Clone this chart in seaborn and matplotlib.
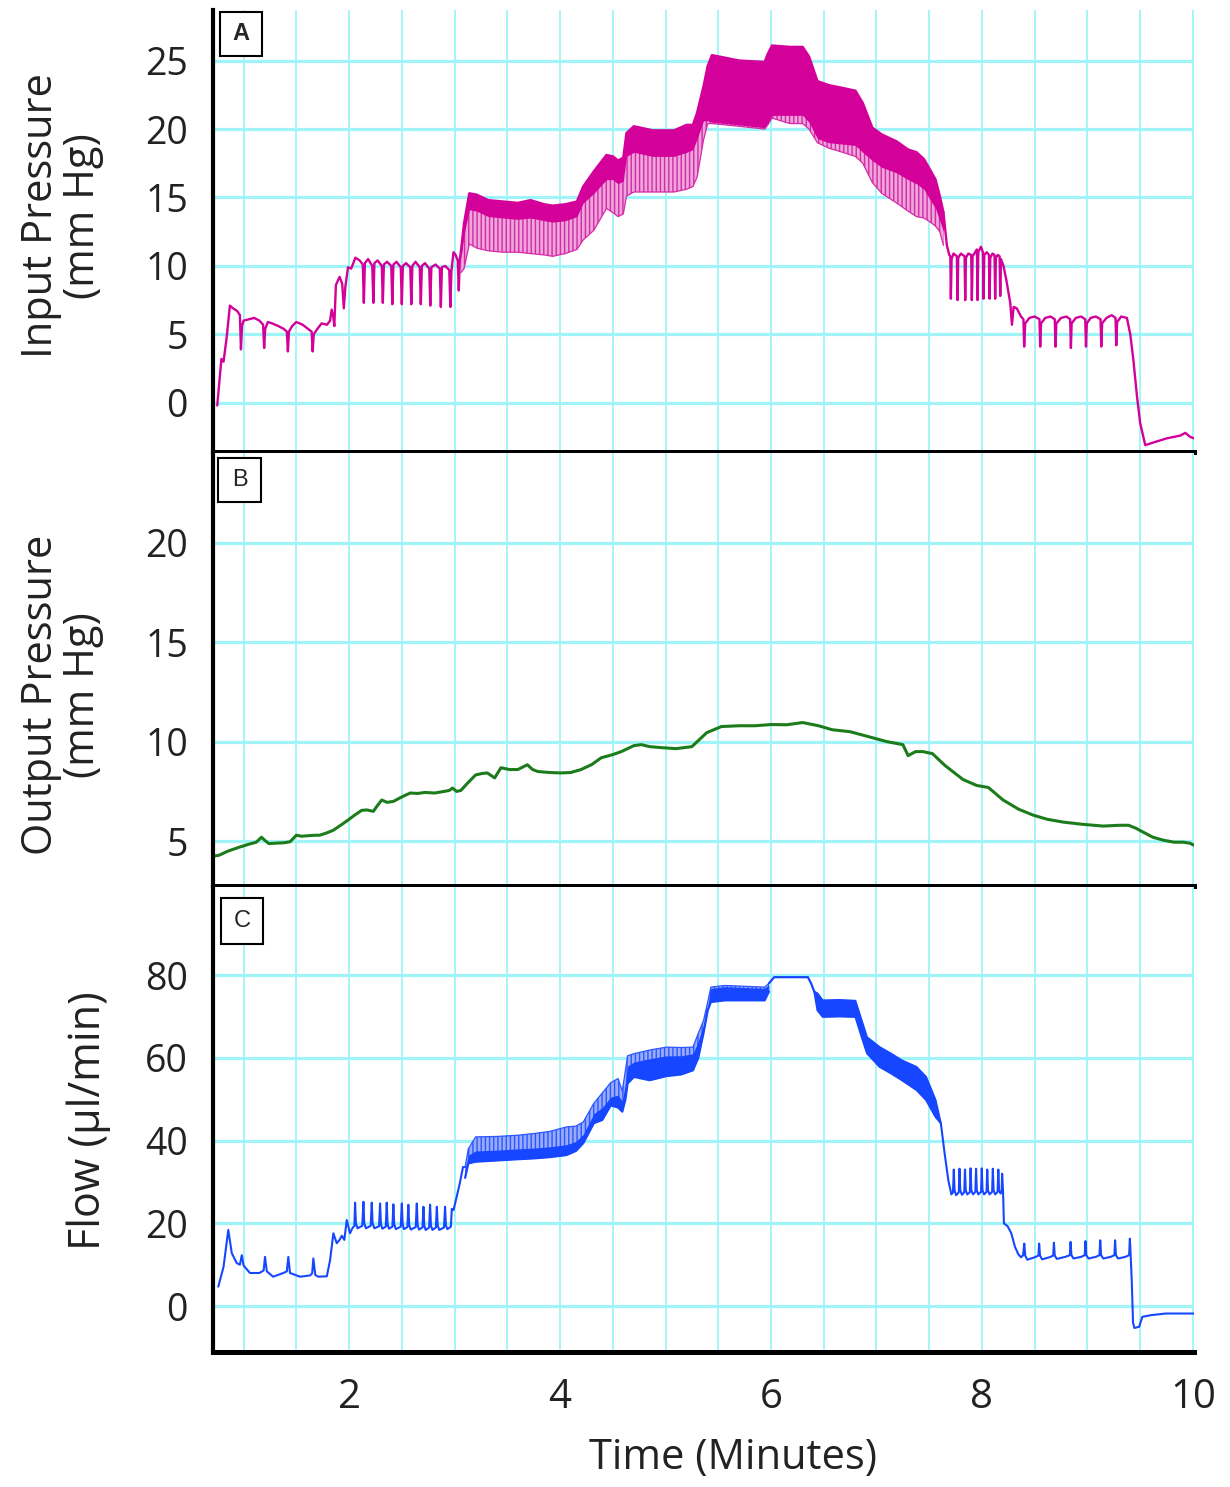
import matplotlib
matplotlib.use("Agg")
import matplotlib.pyplot as plt
import seaborn as sns
from matplotlib.ticker import FixedLocator, MultipleLocator
from matplotlib.patches import Rectangle

# ---------------------------------------------------------------- data
# Panel A - input pressure (mm Hg); sparse trace before the dense pulsing
input_head = [
    (0.75, -0.2), (0.77, 1.5), (0.79, 3.2), (0.81, 3.0), (0.84, 4.8), (0.87, 7.1),
    (0.90, 6.9), (0.94, 6.7), (0.965, 6.4), (0.975, 3.9), (0.985, 5.6), (1.00, 6.0),
    (1.05, 6.1), (1.10, 6.2), (1.15, 6.0), (1.185, 5.7), (1.195, 4.0), (1.205, 5.4),
    (1.23, 5.9), (1.27, 5.8), (1.33, 5.6), (1.38, 5.4), (1.41, 5.2), (1.42, 3.75),
    (1.43, 5.2), (1.46, 5.6), (1.50, 5.9), (1.56, 5.7), (1.61, 5.4), (1.645, 5.2),
    (1.655, 3.75), (1.665, 5.0), (1.70, 5.4), (1.74, 5.8), (1.79, 5.7), (1.82, 6.0),
    (1.835, 6.8), (1.85, 6.3), (1.86, 5.6), (1.875, 8.6), (1.91, 9.2), (1.935, 8.7),
    (1.95, 6.9), (1.965, 8.5), (1.99, 9.9), (2.02, 9.8), (2.06, 10.6), (2.10, 10.4),
    (2.13, 10.1), (2.14, 7.3), (2.15, 10.2), (2.18, 10.5), (2.22, 10.0), (2.23, 7.3),
    (2.24, 10.2), (2.27, 10.4), (2.31, 10.0), (2.32, 7.3), (2.33, 10.1), (2.36, 10.3),
    (2.40, 10.0), (2.41, 7.2), (2.42, 10.1), (2.45, 10.3), (2.49, 9.9), (2.50, 7.2),
    (2.51, 10.0), (2.54, 10.2), (2.58, 9.9), (2.59, 7.2), (2.60, 10.0), (2.63, 10.3),
    (2.67, 9.9), (2.68, 7.2), (2.69, 10.0), (2.72, 10.2), (2.76, 9.8), (2.77, 7.1),
    (2.78, 9.9), (2.82, 10.1), (2.86, 9.8), (2.87, 7.0), (2.88, 9.9), (2.91, 10.0),
    (2.95, 9.7), (2.96, 7.0), (2.97, 9.6), (2.99, 11.0), (3.01, 10.8), (3.03, 10.4),
    (3.04, 8.2), (3.05, 10.5), (3.06, 11.0),
]
# dense pulsing section: time, top of trace, bottom of the solid part, lowest dips
input_band_t = [3.06, 3.09, 3.14, 3.21, 3.32, 3.46, 3.60, 3.72, 3.85, 3.93, 4.05, 4.16,
                4.22, 4.32, 4.44, 4.50, 4.55, 4.60, 4.63, 4.70, 4.88, 5.08, 5.20, 5.26,
                5.30, 5.36, 5.40, 5.44, 5.70, 5.94, 5.97, 6.01, 6.18, 6.30, 6.36, 6.44,
                6.55, 6.68, 6.80, 6.87, 6.96, 7.05, 7.19, 7.30, 7.38, 7.45, 7.51, 7.56,
                7.60, 7.635]
input_band_hi = [11.0, 13.1, 15.3, 15.2, 14.8, 14.7, 14.6, 14.8, 14.5, 14.4, 14.5, 14.7,
                 15.8, 16.9, 18.1, 18.0, 17.7, 17.9, 19.7, 20.2, 19.9, 19.9, 20.3, 20.3,
                 21.2, 23.1, 24.6, 25.4, 25.0, 24.9, 25.5, 26.1, 26.0, 26.0, 25.3, 23.5,
                 23.2, 23.0, 22.8, 21.9, 20.1, 19.6, 19.1, 18.5, 18.3, 17.8, 17.0, 16.3,
                 15.1, 13.9]
input_band_mid = [10.5, 12.3, 14.1, 14.0, 13.6, 13.5, 13.4, 13.5, 13.3, 13.2, 13.3, 13.6,
                  14.6, 15.3, 16.3, 16.3, 16.0, 16.2, 18.0, 18.3, 18.0, 18.0, 18.3, 18.5,
                  19.3, 20.6, 20.6, 20.5, 20.3, 20.1, 20.4, 21.0, 21.0, 21.0, 20.5, 19.3,
                  19.0, 18.9, 18.8, 18.3, 17.7, 17.2, 16.8, 16.3, 16.0, 15.6, 14.8, 14.2,
                  13.3, 12.5]
input_band_lo = [9.5, 9.8, 11.6, 11.3, 11.1, 11.0, 11.0, 10.9, 10.8, 10.7, 10.9, 11.2,
                 11.9, 12.6, 14.2, 13.9, 13.6, 13.8, 15.1, 15.4, 15.4, 15.4, 15.6, 15.8,
                 16.5, 19.2, 20.4, 20.4, 20.2, 20.0, 20.3, 20.8, 20.4, 20.4, 20.0, 19.0,
                 18.6, 18.3, 18.0, 17.5, 16.1, 15.3, 14.6, 14.0, 13.6, 13.5, 13.2, 12.9,
                 12.5, 11.5]
input_tail = [
    (7.635, 13.9), (7.667, 11.5), (7.69, 10.8), (7.700, 10.7), (7.705, 7.6), (7.712, 10.5),
    (7.73, 10.9), (7.762, 10.7), (7.768, 7.5), (7.775, 10.6), (7.80, 10.9), (7.835, 10.7),
    (7.841, 7.5), (7.848, 10.6), (7.87, 10.9), (7.898, 10.8), (7.904, 7.5), (7.911, 10.7),
    (7.935, 11.0), (7.952, 11.2), (7.958, 7.5), (7.965, 11.0), (7.99, 11.4), (8.009, 11.0),
    (8.015, 7.6), (8.022, 10.8), (8.045, 11.0), (8.066, 10.8), (8.072, 7.6), (8.079, 10.6),
    (8.10, 10.9), (8.119, 10.8), (8.125, 7.6), (8.132, 10.6), (8.15, 10.8), (8.167, 10.7),
    (8.173, 7.8), (8.18, 10.5), (8.204, 10.0), (8.23, 9.0), (8.268, 7.3), (8.284, 5.7),
    (8.30, 7.0), (8.33, 6.9), (8.37, 6.3), (8.393, 6.1), (8.40, 4.1), (8.41, 5.8),
    (8.45, 6.2), (8.50, 6.3), (8.545, 6.1), (8.552, 4.1), (8.56, 5.8), (8.60, 6.2),
    (8.65, 6.3), (8.69, 6.1), (8.697, 4.1), (8.705, 5.8), (8.75, 6.2), (8.80, 6.3),
    (8.836, 6.1), (8.843, 4.0), (8.85, 5.8), (8.89, 6.2), (8.94, 6.3), (8.979, 6.1),
    (8.986, 4.1), (8.994, 5.8), (9.03, 6.2), (9.08, 6.3), (9.124, 6.1), (9.131, 4.1),
    (9.139, 5.8), (9.18, 6.2), (9.23, 6.4), (9.266, 6.2), (9.273, 4.2), (9.281, 5.9),
    (9.32, 6.3), (9.374, 6.2), (9.406, 5.0), (9.437, 3.0), (9.469, 0.5), (9.50, -1.5),
    (9.548, -3.1), (9.627, -2.9), (9.753, -2.6), (9.88, -2.4), (9.927, -2.2),
    (9.975, -2.5), (10.01, -2.6),
]

# Panel B - output pressure (mm Hg)
output_trace = [
    (0.72, 4.25), (0.77, 4.3), (0.85, 4.5), (0.96, 4.7), (1.05, 4.85), (1.12, 4.95),
    (1.17, 5.2), (1.20, 5.05), (1.24, 4.88), (1.30, 4.9), (1.38, 4.92), (1.44, 4.97),
    (1.50, 5.3), (1.55, 5.25), (1.62, 5.28), (1.68, 5.3), (1.72, 5.3), (1.78, 5.4),
    (1.85, 5.55), (1.92, 5.8), (1.99, 6.06), (2.05, 6.3), (2.12, 6.55), (2.17, 6.57),
    (2.23, 6.5), (2.27, 6.8), (2.31, 7.07), (2.36, 6.95), (2.42, 7.0), (2.48, 7.17),
    (2.53, 7.3), (2.58, 7.42), (2.65, 7.4), (2.72, 7.45), (2.81, 7.42), (2.90, 7.5),
    (2.95, 7.55), (2.98, 7.67), (3.02, 7.5), (3.06, 7.55), (3.12, 7.9), (3.20, 8.33),
    (3.26, 8.4), (3.31, 8.43), (3.38, 8.18), (3.44, 8.69), (3.52, 8.6), (3.60, 8.6),
    (3.69, 8.84), (3.74, 8.6), (3.79, 8.5), (3.90, 8.45), (4.01, 8.43), (4.10, 8.45),
    (4.20, 8.6), (4.30, 8.85), (4.39, 9.19), (4.50, 9.35), (4.58, 9.5), (4.70, 9.8),
    (4.77, 9.85), (4.85, 9.75), (4.96, 9.7), (5.10, 9.65), (5.25, 9.75), (5.32, 10.1),
    (5.39, 10.45), (5.53, 10.76), (5.70, 10.8), (5.85, 10.8), (6.00, 10.86),
    (6.15, 10.85), (6.30, 10.96), (6.45, 10.8), (6.58, 10.6), (6.75, 10.5), (6.96, 10.2),
    (7.10, 10.0), (7.25, 9.85), (7.30, 9.3), (7.37, 9.5), (7.44, 9.5), (7.53, 9.4),
    (7.65, 8.8), (7.82, 8.1), (7.95, 7.8), (8.06, 7.7), (8.20, 7.07), (8.35, 6.6),
    (8.49, 6.3), (8.62, 6.1), (8.77, 5.96), (8.95, 5.85), (9.15, 5.76), (9.30, 5.8),
    (9.39, 5.8), (9.46, 5.65), (9.53, 5.45), (9.62, 5.2), (9.72, 5.05), (9.82, 4.95),
    (9.91, 4.95), (9.97, 4.9), (10.01, 4.8),
]

# Panel C - flow (ul/min)
flow_head = [
    (0.76, 4.7), (0.81, 9.5), (0.855, 18.4), (0.888, 12.8), (0.935, 10.4), (0.965, 10.0),
    (0.983, 12.3), (1.00, 9.8), (1.06, 8.0), (1.15, 8.0), (1.19, 8.6), (1.203, 11.9),
    (1.22, 8.4), (1.28, 7.1), (1.377, 8.0), (1.41, 8.4), (1.424, 11.9), (1.44, 8.0),
    (1.535, 7.1), (1.63, 7.4), (1.65, 7.9), (1.661, 11.5), (1.68, 7.5), (1.709, 7.1),
    (1.789, 7.2), (1.820, 11.1), (1.851, 17.6), (1.883, 15.2), (1.91, 16.0),
    (1.931, 17.0), (1.955, 16.0), (1.978, 20.8), (2.009, 17.6), (2.035, 19.0),
    (2.05, 19.3),
    (2.057, 25.0), (2.065, 20.0), (2.08, 18.8), (2.125, 19.4),
    (2.136, 25.2), (2.144, 20.0), (2.16, 18.8), (2.205, 19.4),
    (2.215, 25.0), (2.223, 20.0), (2.24, 18.8), (2.284, 19.3),
    (2.294, 24.8), (2.302, 19.8), (2.315, 18.7), (2.348, 19.2),
    (2.357, 25.0), (2.365, 19.8), (2.378, 18.7), (2.411, 19.2),
    (2.42, 24.6), (2.428, 19.8), (2.443, 18.6), (2.49, 19.2),
    (2.50, 24.8), (2.508, 19.8), (2.52, 18.6), (2.553, 19.1),
    (2.562, 24.5), (2.57, 19.6), (2.585, 18.5), (2.632, 19.1),
    (2.642, 24.8), (2.65, 19.6), (2.663, 18.5), (2.696, 19.0),
    (2.705, 24.0), (2.713, 19.5), (2.726, 18.4), (2.759, 19.0),
    (2.768, 24.5), (2.776, 19.5), (2.79, 18.4), (2.823, 19.0),
    (2.832, 24.0), (2.84, 19.5), (2.855, 18.4), (2.90, 19.0),
    (2.91, 24.0), (2.918, 19.5), (2.932, 18.6), (2.965, 19.2),
    (2.974, 23.5), (2.99, 23.2), (3.02, 26.4), (3.05, 29.7), (3.08, 33.6), (3.10, 33.6),
]
# dense pulsing: time, top of the pulses, top of the solid base, bottom
flow_band_t = [3.10, 3.13, 3.20, 3.40, 3.60, 3.75, 3.90, 4.06, 4.15, 4.22, 4.32, 4.40,
               4.48, 4.55, 4.59, 4.62, 4.64, 4.70, 4.85, 5.01, 5.15, 5.26, 5.31, 5.36,
               5.40, 5.43, 5.56, 5.75, 5.94, 5.98]
flow_band_hi = [33.6, 38.0, 40.9, 41.0, 41.3, 41.7, 42.2, 43.3, 43.5, 44.5, 49.0, 51.5,
                54.0, 55.0, 52.0, 57.0, 60.5, 61.0, 61.9, 62.6, 62.5, 62.6, 65.9, 69.0,
                73.5, 77.1, 77.5, 77.3, 77.1, 78.0]
flow_band_mid = [33.0, 36.5, 37.5, 37.7, 38.0, 38.2, 38.5, 39.0, 39.8, 41.5, 46.5, 48.0,
                 50.5, 51.0, 49.5, 54.0, 58.0, 59.0, 59.8, 60.5, 60.5, 61.0, 64.0, 68.0,
                 72.5, 76.8, 77.2, 77.0, 76.8, 77.7]
flow_band_lo = [31.0, 34.5, 34.9, 35.2, 35.5, 35.7, 36.0, 36.5, 37.5, 39.4, 44.2, 45.0,
                48.5, 48.0, 47.0, 50.0, 53.8, 55.4, 54.6, 55.6, 56.0, 57.0, 60.0, 66.0,
                71.5, 73.5, 73.9, 73.9, 73.9, 76.0]
flow_plateau = [(5.98, 78.0), (6.03, 79.5), (6.35, 79.5), (6.38, 78.0), (6.41, 76.0)]
flow_band2_t = [6.41, 6.44, 6.49, 6.65, 6.80, 6.86, 6.91, 7.03, 7.14, 7.24, 7.38, 7.47,
                7.56, 7.61]
flow_band2_hi = [76.0, 75.6, 73.9, 74.0, 73.8, 69.0, 65.0, 62.6, 61.0, 59.4, 57.8, 55.4,
                 49.8, 44.2]
flow_band2_lo = [76.0, 71.5, 69.9, 70.0, 69.9, 65.0, 61.1, 57.8, 56.2, 54.6, 52.2, 49.8,
                 45.7, 44.2]
flow_tail = [
    (7.61, 44.2), (7.646, 36.9), (7.681, 30.4), (7.71, 27.0), (7.725, 27.5),
    (7.733, 33.0), (7.74, 28.0), (7.755, 26.8), (7.78, 27.5),
    (7.787, 33.2), (7.794, 28.0), (7.81, 26.9), (7.832, 27.5),
    (7.839, 33.0), (7.846, 28.0), (7.86, 27.0), (7.885, 27.5),
    (7.892, 33.3), (7.899, 28.0), (7.915, 27.0), (7.937, 27.6),
    (7.944, 33.2), (7.951, 28.0), (7.965, 27.0), (7.991, 27.6),
    (7.998, 33.3), (8.005, 28.0), (8.02, 27.0), (8.043, 27.6),
    (8.05, 33.0), (8.057, 28.0), (8.072, 27.0), (8.096, 27.6),
    (8.103, 33.2), (8.11, 28.0), (8.125, 27.0), (8.148, 27.6),
    (8.155, 33.0), (8.162, 28.0), (8.175, 27.2), (8.186, 27.6),
    (8.191, 32.0), (8.20, 27.5), (8.208, 20.0), (8.243, 19.3), (8.278, 17.6),
    (8.313, 14.3), (8.345, 12.5), (8.37, 11.8), (8.39, 12.3),
    (8.401, 15.1), (8.41, 12.2), (8.43, 11.2), (8.50, 11.8), (8.535, 12.2),
    (8.542, 15.1), (8.55, 12.2), (8.57, 11.3), (8.64, 11.8), (8.675, 12.2),
    (8.682, 15.3), (8.69, 12.2), (8.71, 11.4), (8.79, 11.9), (8.833, 12.3),
    (8.84, 15.5), (8.848, 12.3), (8.868, 11.5), (8.94, 11.9), (8.974, 12.3),
    (8.981, 15.7), (8.989, 12.3), (9.01, 11.5), (9.08, 11.9), (9.114, 12.3),
    (9.121, 15.9), (9.129, 12.3), (9.15, 11.5), (9.22, 11.9), (9.255, 12.3),
    (9.262, 15.9), (9.27, 12.3), (9.29, 11.5), (9.36, 11.9), (9.395, 12.3),
    (9.402, 16.3), (9.41, 12.0), (9.42, 6.0), (9.432, -4.0), (9.445, -5.3),
    (9.49, -5.0), (9.52, -2.6), (9.60, -2.2), (9.74, -1.8), (10.01, -1.8),
]

# axis ticks
time_ticks = [2, 4, 6, 8, 10]
input_ticks = [0, 5, 10, 15, 20, 25]
output_ticks = [5, 10, 15, 20]
flow_ticks = [0, 20, 40, 60, 80]

# ---------------------------------------------------------------- style
sns.set_style("white")
plt.rcParams["font.family"] = ["Open Sans", "DejaVu Sans"]
plt.rcParams["hatch.linewidth"] = 1.0

MAGENTA = "#d3009a"
PINK = "#eda6db"
PINK_STROKE = "#d62aa6"
GREEN = "#1c7c1c"
BLUE = "#1646ff"
BLUE_LIGHT = "#98abff"
BLUE_STROKE = "#2b57ff"
GRID = "#9ff4f8"

W, H = 1230, 1487
fig = plt.figure(figsize=(W / 100, H / 100), dpi=100)
fig.patch.set_facecolor("white")

left, width = 213 / W, (1194 - 213) / W
axA = fig.add_axes([left, 1 - 452 / H, width, (452 - 10) / H])
axB = fig.add_axes([left, 1 - 886 / H, width, (886 - 453) / H])
axC = fig.add_axes([left, 1 - 1352 / H, width, (1352 - 887) / H])


def style_axes(ax, ylim, yticks, show_time):
    ax.set_xlim(0.71, 10.01)
    ax.set_ylim(*ylim)
    ax.set_facecolor("white")
    ax.yaxis.set_major_locator(FixedLocator(yticks))
    ax.xaxis.set_major_locator(FixedLocator(time_ticks))
    ax.xaxis.set_minor_locator(MultipleLocator(0.5))
    ax.grid(which="both", axis="x", color=GRID, lw=1.3)
    ax.grid(which="major", axis="y", color=GRID, lw=2.3)
    ax.set_axisbelow(True)
    for side in ("top", "right"):
        ax.spines[side].set_visible(False)
    ax.spines["left"].set_linewidth(3.0)
    ax.spines["bottom"].set_linewidth(3.6)
    ax.spines["left"].set_color("black")
    ax.spines["bottom"].set_color("black")
    ax.tick_params(axis="y", direction="out", length=6, width=2.6, labelsize=27,
                   pad=12, colors="black", labelcolor="#222222")
    ax.tick_params(axis="x", which="minor", length=0)
    if show_time:
        ax.tick_params(axis="x", which="major", direction="out", length=7, width=3,
                       labelsize=29, pad=11, labelcolor="#222222")
    else:
        ax.tick_params(axis="x", which="major", length=0, labelbottom=False)
    ax.set_xlabel("")
    ax.set_ylabel("")


def trace(ax, pairs, color, lw):
    t, v = zip(*pairs)
    sns.lineplot(x=list(t), y=list(v), ax=ax, color=color, lw=lw,
                 estimator=None, sort=False, legend=False)


def edge(ax, t, v, color, lw):
    sns.lineplot(x=t, y=v, ax=ax, color=color, lw=lw,
                 estimator=None, sort=False, legend=False)


# ---- Panel A
style_axes(axA, (-3.6, 28.7), input_ticks, False)
trace(axA, input_head, MAGENTA, 1.7)
axA.fill_between(input_band_t, input_band_lo, input_band_hi, facecolor=PINK,
                 edgecolor=PINK_STROKE, hatch="||||", lw=0)
axA.fill_between(input_band_t, input_band_mid, input_band_hi, color=MAGENTA, lw=0)
edge(axA, input_band_t, input_band_hi, MAGENTA, 1.8)
edge(axA, input_band_t, input_band_lo, PINK_STROKE, 0.9)
trace(axA, input_tail, MAGENTA, 1.7)

# ---- Panel B
style_axes(axB, (2.75, 24.5), output_ticks, False)
trace(axB, output_trace, GREEN, 2.2)

# ---- Panel C
style_axes(axC, (-11.1, 101.3), flow_ticks, True)
trace(axC, flow_head, BLUE, 1.5)
axC.fill_between(flow_band_t, flow_band_lo, flow_band_hi, facecolor=BLUE_LIGHT,
                 edgecolor=BLUE_STROKE, hatch="||||", lw=0)
axC.fill_between(flow_band_t, flow_band_lo, flow_band_mid, color=BLUE, lw=0)
edge(axC, flow_band_t, flow_band_lo, BLUE, 1.6)
edge(axC, flow_band_t, flow_band_hi, BLUE_STROKE, 0.9)
trace(axC, flow_plateau, BLUE, 1.6)
axC.fill_between(flow_band2_t, flow_band2_lo, flow_band2_hi, color=BLUE, lw=0)
edge(axC, flow_band2_t, flow_band2_hi, BLUE, 1.4)
edge(axC, flow_band2_t, flow_band2_lo, BLUE, 1.4)
trace(axC, flow_tail, BLUE, 1.5)

# ---------------------------------------------------------------- labels
label_kw = dict(rotation=90, ha="center", va="center", multialignment="center",
                color="#222222", linespacing=1.0)
fig.text(62 / W, 1 - 216 / H, "Input Pressure\n(mm Hg)", fontsize=30, **label_kw)
fig.text(62 / W, 1 - 695 / H, "Output Pressure\n(mm Hg)", fontsize=30, **label_kw)
fig.text(89 / W, 1 - 1121 / H, "Flow (µl/min)", fontsize=31, **label_kw)
fig.text(733 / W, 1 - 1458 / H, "Time (Minutes)", ha="center", va="center",
         fontsize=30, color="#222222")


def panel_tag(letter, x0, y0, x1, y1, weight):
    fig.add_artist(Rectangle((x0 / W, 1 - y1 / H), (x1 - x0) / W, (y1 - y0) / H,
                             transform=fig.transFigure, facecolor="white",
                             edgecolor="black", lw=1.5, zorder=10))
    fig.text((x0 + x1) / 2 / W, 1 - (y0 + y1) / 2 / H, letter, ha="center",
             va="center", fontsize=17, fontweight=weight,
             family=["Liberation Sans", "DejaVu Sans"], zorder=11)


panel_tag("A", 220, 12, 262, 56, "bold")
panel_tag("B", 218, 458, 261, 502, "normal")
panel_tag("C", 221, 898, 263, 944, "normal")

fig.savefig("out.png", dpi=100, facecolor="white")
